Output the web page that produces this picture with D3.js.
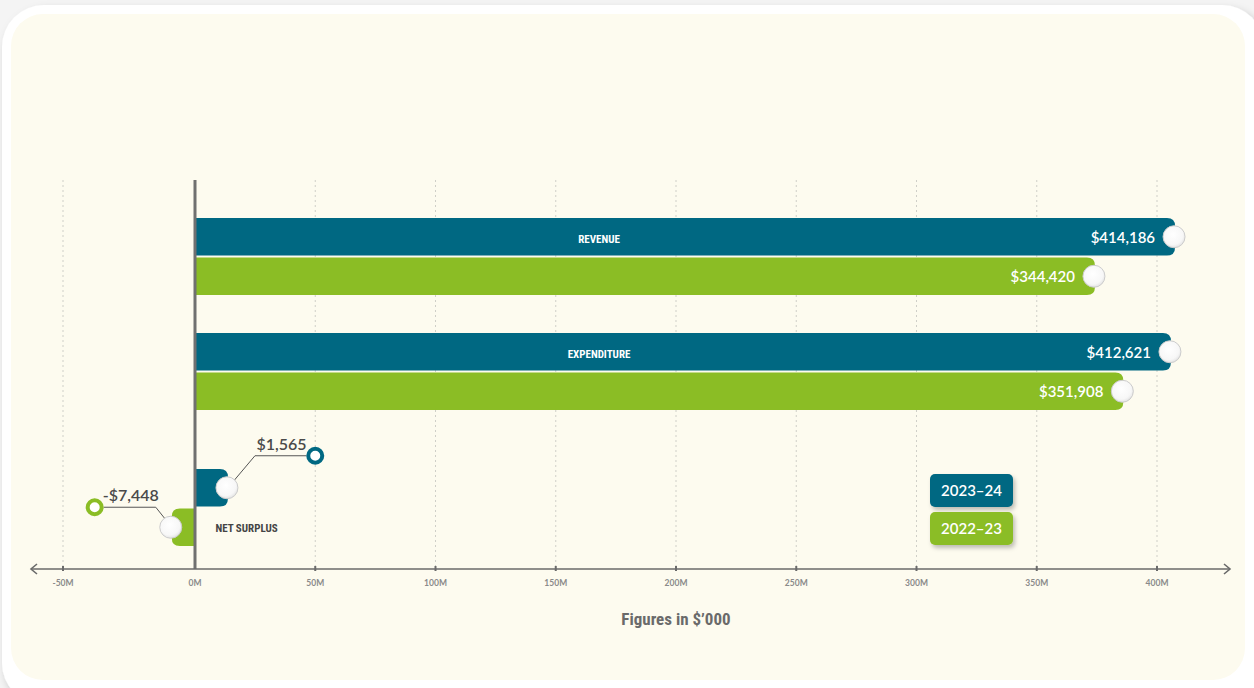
<!DOCTYPE html>
<html>
<head>
<meta charset="utf-8">
<script src="https://cdn.jsdelivr.net/npm/d3@7"></script>
<style>
  html, body { margin: 0; padding: 0; background: #f4f4f4; }
  svg { display: block; }
</style>
</head>
<body>
<div class="box"></div>
<script>
// DATA
const categories = ['REVENUE', 'EXPENDITURE', 'NET SURPLUS'];
const years = ['2023–24', '2022–23'];
// reported values in $'000
const values2324 = [414186, 412621, 1565];
const values2223 = [344420, 351908, -7448];
// where each bar ends on the drawn axis ($M)
const barEnd2324 = [407.5, 405.8, 13.7];
const barEnd2223 = [374.2, 386.0, -8.8];
// callout rings for the net surplus labels ($M on the axis)
const calloutAt = [50, -38];
const tickValues = [-50, 0, 50, 100, 150, 200, 250, 300, 350, 400];

const W = 1254, H = 688;
const teal = '#006882', green = '#8bbd25';

const svg = d3.select('.box').append('svg')
  .attr('width', W)
  .attr('height', H);

const defs = svg.append('defs');
const grad = defs.append('radialGradient').attr('id', 'knob')
  .attr('cx', '45%').attr('cy', '40%').attr('r', '65%');
grad.append('stop').attr('offset', '0%').attr('stop-color', '#ffffff');
grad.append('stop').attr('offset', '70%').attr('stop-color', '#f7f7f7');
grad.append('stop').attr('offset', '100%').attr('stop-color', '#dedede');

const shadow = defs.append('filter').attr('id', 'shadow')
  .attr('x', '-20%').attr('y', '-20%').attr('width', '150%').attr('height', '160%');
shadow.append('feDropShadow').attr('dx', 2).attr('dy', 3).attr('stdDeviation', 2)
  .attr('flood-color', '#000').attr('flood-opacity', 0.25);

const cardShadow = defs.append('filter').attr('id', 'cardShadow')
  .attr('x', '-5%').attr('y', '-5%').attr('width', '110%').attr('height', '115%');
cardShadow.append('feDropShadow').attr('dx', 4).attr('dy', 5).attr('stdDeviation', 4)
  .attr('flood-color', '#000').attr('flood-opacity', 0.25);

// card + cream panel
svg.append('rect')
  .attr('x', 2).attr('y', 5).attr('width', 1262).attr('height', 700)
  .attr('rx', 42).attr('fill', '#ffffff')
  .attr('filter', 'url(#cardShadow)');
svg.append('rect')
  .attr('x', 11).attr('y', 14).attr('width', 1234).attr('height', 666)
  .attr('rx', 32).attr('fill', '#fdfbef');

// SCALES
const x = d3.scaleLinear()
  .domain([-50, 0, 400])
  .range([63, 195, 1157]);

const yCat = d3.scaleOrdinal()
  .domain(categories)
  .range([218, 333, 469]);

const yYear = d3.scaleBand()
  .domain(years)
  .range([0, 77])
  .paddingInner(0.05);

const axisY = 569;
const topY = 180;

// grid lines
svg.append('g')
  .selectAll('line')
  .data(tickValues.filter(d => d !== 0))
  .join('line')
  .attr('x1', d => x(d)).attr('x2', d => x(d))
  .attr('y1', topY).attr('y2', axisY)
  .attr('stroke', '#cfcfc8')
  .attr('stroke-width', 1)
  .attr('stroke-dasharray', '2,3');

// bars
function barPath(x0, x1, y0, h) {
  const r = Math.min(8, Math.abs(x1 - x0));
  if (x1 >= x0) {
    return `M${x0},${y0} H${x1 - r} Q${x1},${y0} ${x1},${y0 + r} V${y0 + h - r} Q${x1},${y0 + h} ${x1 - r},${y0 + h} H${x0} Z`;
  }
  return `M${x0},${y0} H${x1 + r} Q${x1},${y0} ${x1},${y0 + r} V${y0 + h - r} Q${x1},${y0 + h} ${x1 + r},${y0 + h} H${x0} Z`;
}

const rows = [];
categories.forEach((c, i) => {
  rows.push({ cat: c, year: years[0], value: values2324[i], end: barEnd2324[i], color: teal });
  rows.push({ cat: c, year: years[1], value: values2223[i], end: barEnd2223[i], color: green });
});

const fmt = v => (v < 0 ? '-$' : '$') + d3.format(',')(Math.abs(v));

const barG = svg.append('g');
barG.selectAll('path')
  .data(rows)
  .join('path')
  .attr('d', d => barPath(x(0) + 1, x(d.end), yCat(d.cat) + yYear(d.year), yYear.bandwidth()))
  .attr('fill', d => d.color);

// category labels
svg.append('g')
  .selectAll('text')
  .data(categories)
  .join('text')
  .attr('x', (d, i) => i < 2 ? x(168) : x(8.5))
  .attr('y', (d, i) => i < 2 ? yCat(d) + yYear.bandwidth() / 2 + 6 : yCat(d) + yYear(years[1]) + yYear.bandwidth() / 2 + 5)
  .attr('text-anchor', (d, i) => i < 2 ? 'middle' : 'start')
  .attr('fill', (d, i) => i < 2 ? '#ffffff' : '#444444')
  .attr('font-family', '"Liberation Sans Narrow", "Roboto Condensed", Roboto, sans-serif')
  .attr('font-weight', 'bold')
  .attr('font-size', 11)
  .text(d => d);

// value labels inside the big bars
const big = rows.filter(d => d.cat !== 'NET SURPLUS');
svg.append('g')
  .selectAll('text')
  .data(big)
  .join('text')
  .attr('x', d => x(d.end) - 20)
  .attr('y', d => yCat(d.cat) + yYear(d.year) + yYear.bandwidth() / 2 + 6)
  .attr('text-anchor', 'end')
  .attr('fill', '#ffffff')
  .attr('font-family', 'Lato, "Open Sans", sans-serif')
  .attr('font-weight', 600)
  .attr('font-size', 15)
  .text(d => fmt(d.value));

// net surplus callouts
const net = rows.filter(d => d.cat === 'NET SURPLUS');
net.forEach((d, i) => {
  const cx = x(d.end);
  const cy = yCat(d.cat) + yYear(d.year) + yYear.bandwidth() / 2;
  const rx = x(calloutAt[i]);
  const ry = i === 0 ? cy - 32 : cy - 20;
  const dir = rx > cx ? 1 : -1;
  const elbow = cx + dir * (i === 0 ? 27 : 16);
  const endX = rx - dir * 9;
  svg.append('path')
    .attr('d', `M${cx},${cy} L${elbow},${ry} L${endX},${ry}`)
    .attr('fill', 'none')
    .attr('stroke', '#555')
    .attr('stroke-width', 1);
  svg.append('circle')
    .attr('cx', rx).attr('cy', ry).attr('r', 7)
    .attr('fill', '#ffffff')
    .attr('stroke', d.color)
    .attr('stroke-width', 4);
  svg.append('text')
    .attr('x', (elbow + endX) / 2 + (i === 0 ? 1 : 1))
    .attr('y', ry - 6)
    .attr('text-anchor', 'middle')
    .attr('fill', '#4a4a4a')
    .attr('font-family', 'Lato, "Open Sans", sans-serif')
    .attr('font-weight', 600)
    .attr('font-size', 16)
    .text(fmt(d.value));
});

// knobs at bar ends
svg.append('g')
  .selectAll('circle')
  .data(rows)
  .join('circle')
  .attr('cx', d => x(d.end) - 1)
  .attr('cy', d => yCat(d.cat) + yYear(d.year) + yYear.bandwidth() / 2)
  .attr('r', 11)
  .attr('fill', 'url(#knob)')
  .attr('stroke', '#cccccc')
  .attr('stroke-width', 1);

// vertical zero line
svg.append('line')
  .attr('x1', x(0)).attr('x2', x(0))
  .attr('y1', topY).attr('y2', axisY)
  .attr('stroke', '#707070')
  .attr('stroke-width', 3);

// x axis
const axisG = svg.append('g');
axisG.append('line')
  .attr('x1', 31).attr('x2', 1230)
  .attr('y1', axisY).attr('y2', axisY)
  .attr('stroke', '#6a6a6a')
  .attr('stroke-width', 1.6);
axisG.append('path')
  .attr('d', `M37,${axisY - 5} L31,${axisY} L37,${axisY + 5}`)
  .attr('fill', 'none').attr('stroke', '#6a6a6a').attr('stroke-width', 1.6);
axisG.append('path')
  .attr('d', `M1224,${axisY - 5} L1230,${axisY} L1224,${axisY + 5}`)
  .attr('fill', 'none').attr('stroke', '#6a6a6a').attr('stroke-width', 1.6);

const ticks = axisG.selectAll('g.tick')
  .data(tickValues)
  .join('g')
  .attr('class', 'tick')
  .attr('transform', d => `translate(${x(d)},${axisY})`);
ticks.filter(d => d !== 0).append('line')
  .attr('y1', -3).attr('y2', 2)
  .attr('stroke', '#6a6a6a')
  .attr('stroke-width', 2);
ticks.append('text')
  .attr('y', 17)
  .attr('text-anchor', 'middle')
  .attr('fill', '#8a8a8a')
  .attr('font-family', 'Lato, "Open Sans", sans-serif')
  .attr('font-weight', 'bold')
  .attr('font-size', 8.5)
  .text(d => d + 'M');

// axis title
svg.append('text')
  .attr('x', 676).attr('y', 625)
  .attr('text-anchor', 'middle')
  .attr('fill', '#6a6a6a')
  .attr('font-family', '"Liberation Sans Narrow", "Roboto Condensed", Roboto, sans-serif')
  .attr('font-weight', 'bold')
  .attr('font-size', 17)
  .text('Figures in $\u2019000');

// legend
const legend = svg.append('g')
  .selectAll('g')
  .data(years)
  .join('g')
  .attr('transform', (d, i) => `translate(930,${474 + i * 38})`);
legend.append('rect')
  .attr('width', 83).attr('height', 33)
  .attr('rx', 5)
  .attr('fill', (d, i) => i === 0 ? teal : green)
  .attr('filter', 'url(#shadow)');
legend.append('text')
  .attr('x', 41.5).attr('y', 22)
  .attr('text-anchor', 'middle')
  .attr('fill', '#ffffff')
  .attr('font-family', 'Lato, "Open Sans", sans-serif')
  .attr('font-weight', 600)
  .attr('font-size', 15)
  .text(d => d);
</script>
</body>
</html>
